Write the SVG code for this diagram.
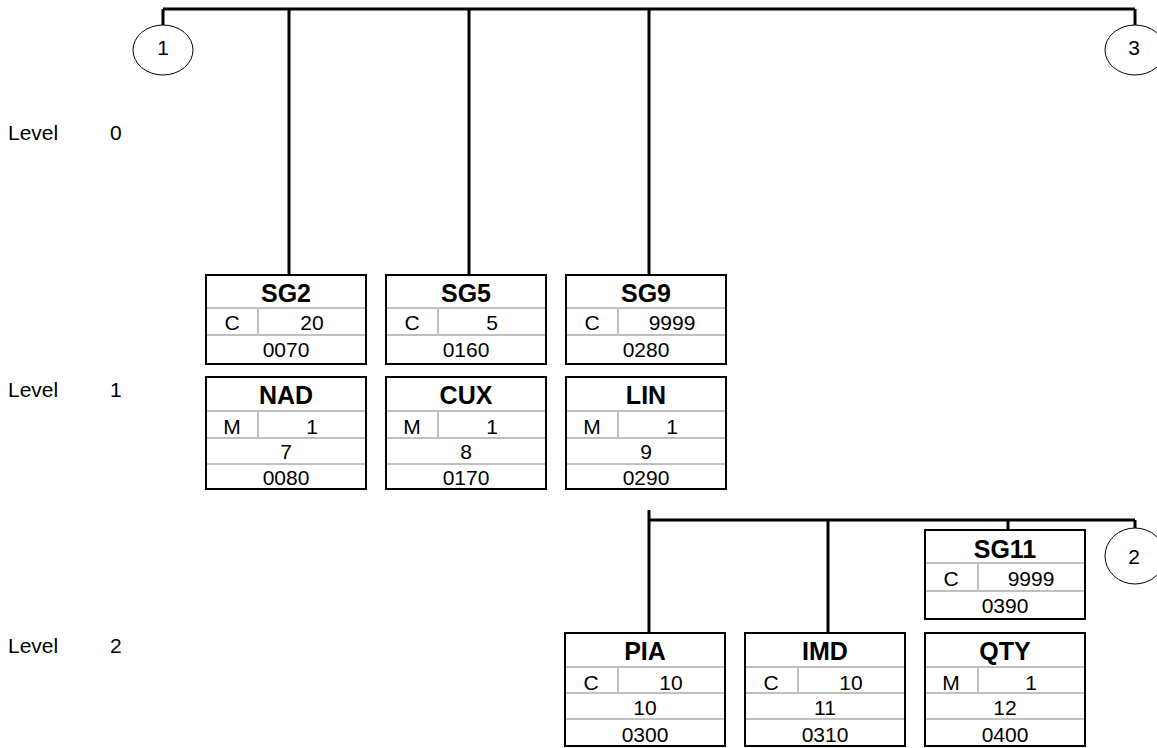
<svg xmlns="http://www.w3.org/2000/svg" width="1157" height="748" viewBox="0 0 1157 748">
<style>
  text { font-family: "Liberation Sans", Arial, sans-serif; fill: #000; }
  .t { font-size: 25px; font-weight: bold; text-anchor: middle; }
  .v { font-size: 21px; text-anchor: middle; }
  .lv { font-size: 21px; }
  .box { fill: #fff; stroke: #000; stroke-width: 2; }
  .div { stroke: #c0c0c0; stroke-width: 2; fill: none; }
  .ln { stroke: #000; stroke-width: 3; fill: none; }
  .circ { fill: #fff; stroke: #000; stroke-width: 1; }
</style>
<rect width="1157" height="748" fill="#fff"/>

<g id="levels">
  <text class="lv" x="8" y="140">Level</text><text class="lv" x="110" y="140">0</text>
  <text class="lv" x="8" y="397">Level</text><text class="lv" x="110" y="397">1</text>
  <text class="lv" x="8" y="653">Level</text><text class="lv" x="110" y="653">2</text>
</g>

<g id="connectors">
  <path class="ln" d="M163,9 H1135"/>
  <path class="ln" d="M163,9 V25"/>
  <path class="ln" d="M1135,9 V25"/>
  <path class="ln" d="M289,9 V275"/>
  <path class="ln" d="M469,9 V275"/>
  <path class="ln" d="M649,9 V275"/>
  <path class="ln" d="M649,510 V633"/>
  <path class="ln" d="M649,520 H1135"/>
  <path class="ln" d="M828,520 V633"/>
  <path class="ln" d="M1008,520 V530"/>
  <path class="ln" d="M1135,520 V528"/>
</g>

<g id="c1">
  <ellipse class="circ" cx="163" cy="50" rx="30" ry="25"/>
  <text class="v" x="163" y="55">1</text>
</g>
<g id="c3">
  <ellipse class="circ" cx="1135" cy="50" rx="30" ry="25"/>
  <text class="v" x="1134" y="55">3</text>
</g>
<g id="c2">
  <ellipse class="circ" cx="1135" cy="556" rx="30" ry="28"/>
  <text class="v" x="1134" y="564">2</text>
</g>

<g id="SG2">
  <rect class="box" x="206" y="275" width="160" height="89"/>
  <path class="div" d="M207,308 H365 M207,335 H365 M258,308 V335"/>
  <text class="t" x="286" y="302">SG2</text>
  <text class="v" x="232" y="330">C</text>
  <text class="v" x="312" y="330">20</text>
  <text class="v" x="286" y="357">0070</text>
</g>
<g id="SG5">
  <rect class="box" x="386" y="275" width="160" height="89"/>
  <path class="div" d="M387,308 H545 M387,335 H545 M438,308 V335"/>
  <text class="t" x="466" y="302">SG5</text>
  <text class="v" x="412" y="330">C</text>
  <text class="v" x="492" y="330">5</text>
  <text class="v" x="466" y="357">0160</text>
</g>
<g id="SG9">
  <rect class="box" x="566" y="275" width="160" height="89"/>
  <path class="div" d="M567,308 H725 M567,335 H725 M618,308 V335"/>
  <text class="t" x="646" y="302">SG9</text>
  <text class="v" x="592" y="330">C</text>
  <text class="v" x="672" y="330">9999</text>
  <text class="v" x="646" y="357">0280</text>
</g>

<g id="NAD">
  <rect class="box" x="206" y="377" width="160" height="112"/>
  <path class="div" d="M207,411 H365 M207,438 H365 M207,464 H365 M258,411 V438"/>
  <text class="t" x="286" y="404">NAD</text>
  <text class="v" x="232" y="434">M</text>
  <text class="v" x="312" y="434">1</text>
  <text class="v" x="286" y="459">7</text>
  <text class="v" x="286" y="485">0080</text>
</g>
<g id="CUX">
  <rect class="box" x="386" y="377" width="160" height="112"/>
  <path class="div" d="M387,411 H545 M387,438 H545 M387,464 H545 M438,411 V438"/>
  <text class="t" x="466" y="404">CUX</text>
  <text class="v" x="412" y="434">M</text>
  <text class="v" x="492" y="434">1</text>
  <text class="v" x="466" y="459">8</text>
  <text class="v" x="466" y="485">0170</text>
</g>
<g id="LIN">
  <rect class="box" x="566" y="377" width="160" height="112"/>
  <path class="div" d="M567,411 H725 M567,438 H725 M567,464 H725 M618,411 V438"/>
  <text class="t" x="646" y="404">LIN</text>
  <text class="v" x="592" y="434">M</text>
  <text class="v" x="672" y="434">1</text>
  <text class="v" x="646" y="459">9</text>
  <text class="v" x="646" y="485">0290</text>
</g>

<g id="SG11">
  <rect class="box" x="925" y="530" width="160" height="89"/>
  <path class="div" d="M926,563 H1084 M926,591 H1084 M978,563 V591"/>
  <text class="t" x="1005" y="558">SG11</text>
  <text class="v" x="951" y="586">C</text>
  <text class="v" x="1031" y="586">9999</text>
  <text class="v" x="1005" y="613">0390</text>
</g>

<g id="PIA">
  <rect class="box" x="565" y="633" width="160" height="113"/>
  <path class="div" d="M566,667 H724 M566,693 H724 M566,719 H724 M618,667 V693"/>
  <text class="t" x="645" y="660">PIA</text>
  <text class="v" x="591" y="690">C</text>
  <text class="v" x="671" y="690">10</text>
  <text class="v" x="645" y="715">10</text>
  <text class="v" x="645" y="742">0300</text>
</g>
<g id="IMD">
  <rect class="box" x="745" y="633" width="160" height="113"/>
  <path class="div" d="M746,667 H904 M746,693 H904 M746,719 H904 M798,667 V693"/>
  <text class="t" x="825" y="660">IMD</text>
  <text class="v" x="771" y="690">C</text>
  <text class="v" x="851" y="690">10</text>
  <text class="v" x="825" y="715">11</text>
  <text class="v" x="825" y="742">0310</text>
</g>
<g id="QTY">
  <rect class="box" x="925" y="633" width="160" height="113"/>
  <path class="div" d="M926,667 H1084 M926,693 H1084 M926,719 H1084 M978,667 V693"/>
  <text class="t" x="1005" y="660">QTY</text>
  <text class="v" x="951" y="690">M</text>
  <text class="v" x="1031" y="690">1</text>
  <text class="v" x="1005" y="715">12</text>
  <text class="v" x="1005" y="742">0400</text>
</g>
</svg>
